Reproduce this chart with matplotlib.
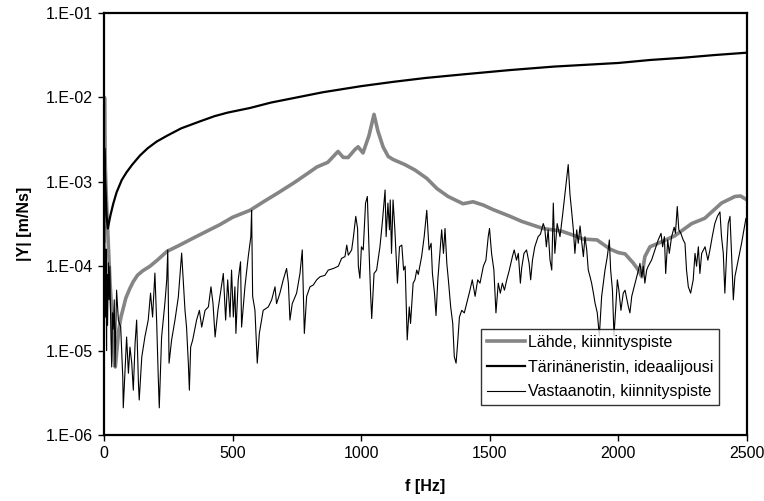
import math
import matplotlib
matplotlib.use('Agg')
import matplotlib.pyplot as plt
from matplotlib.ticker import FixedLocator, FuncFormatter

plt.rcParams['font.family'] = ['Liberation Sans', 'DejaVu Sans']

# Lähde, kiinnityspiste (grey, thick)
f_source = [0, 2, 4, 8, 12, 18, 24, 30, 36, 40, 44, 50, 58, 66, 74, 85, 100, 113, 130, 150,
            179, 210, 245, 290, 340, 400, 450, 500, 568, 620, 680, 740, 789, 828, 870, 910,
            930, 949, 975, 988, 1007, 1030, 1050, 1065, 1085, 1105, 1124, 1170, 1209, 1255,
            1295, 1338, 1396, 1435, 1475, 1512, 1579, 1624, 1707, 1780, 1830, 1862, 1917,
            1967, 2000, 2026, 2057, 2078, 2091, 2103, 2123, 2155, 2220, 2285, 2336, 2401,
            2453, 2475, 2500]
y_source = [2.0e-4, 1.0e-2, 2.0e-3, 8.0e-4, 4.0e-4, 1.5e-4, 6.0e-5, 3.0e-5, 1.3e-5, 7.5e-6,
            6.4e-6, 1.0e-5, 1.8e-5, 2.5e-5, 3.1e-5, 4.2e-5, 5.4e-5, 6.5e-5, 7.8e-5, 8.8e-5,
            1.0e-4, 1.2e-4, 1.5e-4, 1.75e-4, 2.1e-4, 2.6e-4, 3.1e-4, 3.8e-4, 4.6e-4, 5.8e-4,
            7.5e-4, 9.8e-4, 1.24e-3, 1.5e-3, 1.7e-3, 2.29e-3, 1.95e-3, 1.94e-3, 2.4e-3, 2.6e-3,
            2.2e-3, 3.5e-3, 6.3e-3, 4.0e-3, 2.6e-3, 2.0e-3, 1.84e-3, 1.6e-3, 1.38e-3, 1.1e-3,
            8.3e-4, 6.7e-4, 5.5e-4, 5.8e-4, 5.3e-4, 4.7e-4, 3.9e-4, 3.4e-4, 2.8e-4, 2.6e-4,
            2.3e-4, 2.1e-4, 2.05e-4, 1.6e-4, 1.45e-4, 1.4e-4, 1.1e-4, 9.0e-5, 7.5e-5, 1.3e-4,
            1.7e-4, 1.87e-4, 2.3e-4, 3.2e-4, 3.7e-4, 5.6e-4, 6.7e-4, 6.8e-4, 6.1e-4]

# Tärinäneristin, ideaalijousi (black, medium)
f_spring = [0, 1, 5, 10, 15, 25, 36, 49, 69, 88, 110, 140, 170, 205, 244, 300, 373, 430, 480,
            568, 650, 750, 850, 1000, 1125, 1250, 1400, 1579, 1750, 2000, 2125, 2250, 2375, 2500]
y_spring = [1.0e-4, 2.5e-3, 1.0e-3, 4.0e-4, 2.8e-4, 4.0e-4, 5.5e-4, 7.5e-4, 1.05e-3, 1.3e-3,
            1.6e-3, 2.05e-3, 2.5e-3, 3.0e-3, 3.5e-3, 4.3e-3, 5.2e-3, 6.0e-3, 6.6e-3,
            7.5e-3, 8.7e-3, 1.0e-2, 1.15e-2, 1.36e-2, 1.53e-2, 1.7e-2, 1.88e-2, 2.11e-2,
            2.32e-2, 2.56e-2, 2.78e-2, 2.95e-2, 3.18e-2, 3.39e-2]

# Vastaanotin, kiinnityspiste (black, thin)
f_receiver = [0, 2, 4, 6, 8, 10, 12, 14, 17, 20, 23, 27, 30, 33, 36, 40, 43, 49, 56, 65, 73,
              75, 82, 88, 95, 101, 108, 114, 121, 127, 134, 137, 147, 159, 172, 181, 189, 198,
              205, 211, 215, 224, 237, 244, 248, 253, 263, 276, 289, 302, 315, 321, 328, 332,
              337, 345, 360, 371, 380, 393, 406, 416, 424, 432, 443, 451, 464, 473, 481, 490,
              496, 503, 509, 513, 522, 531, 535, 548, 561, 571, 574, 578, 587, 596, 604, 619,
              639, 652, 665, 671, 684, 697, 710, 717, 723, 732, 749, 762, 771, 779, 788, 801,
              814, 827, 840, 859, 872, 892, 911, 924, 937, 944, 950, 963, 970, 979, 986, 989,
              995, 1001, 1008, 1017, 1024, 1031, 1037, 1041, 1050, 1060, 1073, 1083, 1093,
              1097, 1104, 1110, 1113, 1118, 1124, 1131, 1141, 1149, 1158, 1165, 1171, 1179,
              1187, 1192, 1202, 1209, 1216, 1222, 1235, 1245, 1255, 1264, 1272, 1277, 1285,
              1291, 1298, 1304, 1313, 1320, 1326, 1333, 1339, 1348, 1356, 1362, 1369, 1375,
              1382, 1391, 1401, 1410, 1423, 1432, 1443, 1453, 1462, 1475, 1485, 1494, 1499,
              1507, 1516, 1524, 1533, 1541, 1549, 1557, 1566, 1576, 1588, 1595, 1604, 1611,
              1619, 1624, 1633, 1643, 1653, 1659, 1666, 1675, 1688, 1697, 1708, 1714, 1720,
              1727, 1734, 1741, 1747, 1753, 1762, 1773, 1783, 1792, 1805, 1812, 1818, 1825,
              1831, 1838, 1844, 1851, 1857, 1864, 1870, 1877, 1883, 1890, 1896, 1903, 1909,
              1918, 1926, 1935, 1948, 1957, 1965, 1970, 1977, 1983, 1990, 1996, 2002, 2010,
              2019, 2026, 2039, 2045, 2052, 2065, 2078, 2084, 2091, 2097, 2103, 2110, 2116,
              2129, 2142, 2155, 2166, 2172, 2179, 2184, 2192, 2198, 2207, 2217, 2222, 2229,
              2235, 2243, 2252, 2259, 2265, 2272, 2281, 2291, 2298, 2304, 2311, 2317, 2324,
              2337, 2348, 2356, 2365, 2375, 2385, 2395, 2401, 2408, 2414, 2421, 2427, 2434,
              2440, 2447, 2453, 2466, 2479, 2490, 2496, 2500]
y_receiver = [1.0e-4, 3.0e-4, 1.2e-4, 2.5e-5, 1.6e-4, 1.0e-5, 8.0e-5, 2.0e-5, 1.1e-4, 4.0e-5,
              1.0e-4, 1.5e-5, 6.4e-6, 2.8e-5, 1.8e-5, 4.0e-5, 6.4e-6, 5.2e-5, 2.3e-5, 1.9e-5,
              4.9e-6, 2.1e-6, 5.9e-6, 1.45e-5, 5.4e-6, 1.1e-5, 7.1e-6, 3.4e-6, 1.23e-5, 2.3e-5,
              4.1e-6, 2.6e-6, 8.4e-6, 1.45e-5, 2.3e-5, 4.8e-5, 2.5e-5, 8.3e-5, 2.1e-5, 4.9e-6,
              2.1e-6, 1.45e-5, 3.7e-5, 6.9e-5, 1.56e-4, 7.1e-6, 1.34e-5, 2.3e-5, 4.3e-5, 1.43e-4,
              3.0e-5, 1.9e-5, 7.1e-6, 3.4e-6, 1.1e-5, 1.34e-5, 2.3e-5, 3.0e-5, 1.9e-5, 3.0e-5,
              3.3e-5, 5.7e-5, 3.6e-5, 1.45e-5, 3.0e-5, 4.4e-5, 8.2e-5, 2.3e-5, 6.9e-5, 2.5e-5,
              9.0e-5, 2.5e-5, 5.7e-5, 1.6e-5, 6.9e-5, 1.13e-4, 1.9e-5, 5.7e-5, 1.3e-4, 2.24e-4,
              4.6e-4, 4.4e-5, 3.0e-5, 7.1e-6, 1.6e-5, 3.0e-5, 3.3e-5, 4.0e-5, 5.7e-5, 3.6e-5,
              4.8e-5, 6.9e-5, 9.4e-5, 6.3e-5, 2.3e-5, 3.6e-5, 4.8e-5, 8.2e-5, 1.56e-4, 1.6e-5,
              4.4e-5, 5.7e-5, 6.0e-5, 6.9e-5, 7.5e-5, 7.8e-5, 9.0e-5, 9.4e-5, 1.0e-4, 1.24e-4,
              1.3e-4, 1.78e-4, 1.35e-4, 1.56e-4, 2.24e-4, 3.9e-4, 2.8e-4, 1.0e-4, 7.2e-5, 1.7e-4,
              1.56e-4, 5.6e-4, 6.7e-4, 1.42e-4, 4.4e-5, 2.4e-5, 8.2e-5, 9.0e-5, 1.7e-4, 3.5e-4,
              8.0e-4, 2.24e-4, 5.6e-4, 2.7e-4, 6.1e-4, 1.42e-4, 6.1e-4, 2.7e-4, 6.3e-5, 1.7e-4,
              1.78e-4, 9.0e-5, 1.0e-4, 1.34e-5, 3.3e-5, 2.1e-5, 6.3e-5, 6.9e-5, 9.0e-5, 8.0e-5,
              1.3e-4, 2.24e-4, 4.6e-4, 1.56e-4, 1.87e-4, 8.2e-5, 4.8e-5, 2.6e-5, 6.9e-5, 1.18e-4,
              2.7e-4, 1.42e-4, 2.8e-4, 1.08e-4, 6.9e-5, 3.3e-5, 2.1e-5, 8.5e-6, 7.1e-6, 1.22e-5,
              2.5e-5, 3.0e-5, 2.8e-5, 3.6e-5, 5.2e-5, 6.9e-5, 4.4e-5, 6.9e-5, 6.3e-5, 1.0e-4,
              1.18e-4, 2.24e-4, 2.8e-4, 1.42e-4, 9.0e-5, 2.8e-5, 6.3e-5, 4.8e-5, 6.3e-5, 5.2e-5,
              6.9e-5, 9.0e-5, 1.3e-4, 1.56e-4, 1.18e-4, 1.42e-4, 6.3e-5, 9.5e-5, 1.42e-4, 1.56e-4,
              1.08e-4, 6.9e-5, 1.18e-4, 1.7e-4, 2.24e-4, 2.4e-4, 3.2e-4, 2.8e-4, 1.7e-4, 2.7e-4,
              1.2e-4, 9.0e-5, 5.6e-4, 1.42e-4, 3.2e-4, 2.24e-4, 4.0e-4, 7.0e-4, 1.6e-3, 7.0e-4,
              4.6e-4, 2.7e-4, 1.42e-4, 2.7e-4, 1.87e-4, 3.0e-4, 2.0e-4, 1.3e-4, 2.24e-4, 1.56e-4,
              9.0e-5, 7.5e-5, 6.3e-5, 4.8e-5, 3.7e-5, 2.8e-5, 1.5e-5, 4.4e-5, 9.0e-5, 1.3e-4,
              2.05e-4, 9.0e-5, 5.2e-5, 1.5e-5, 3.3e-5, 6.9e-5, 5.2e-5, 3.0e-5, 4.8e-5, 5.2e-5,
              3.3e-5, 2.8e-5, 4.4e-5, 6.3e-5, 9.0e-5, 1.08e-4, 7.5e-5, 1.0e-4, 6.3e-5, 9.0e-5,
              1.0e-4, 1.18e-4, 1.56e-4, 2.05e-4, 2.45e-4, 1.7e-4, 2.24e-4, 8.2e-5, 2.05e-4, 1.42e-4,
              2.24e-4, 2.9e-4, 2.45e-4, 5.1e-4, 2.7e-4, 2.45e-4, 2.05e-4, 1.87e-4, 9.0e-5, 5.7e-5,
              4.8e-5, 6.9e-5, 1.42e-4, 1.0e-4, 1.7e-4, 8.2e-5, 1.42e-4, 1.7e-4, 1.18e-4, 1.56e-4,
              2.24e-4, 3.2e-4, 3.9e-4, 4.4e-4, 2.24e-4, 1.42e-4, 4.8e-5, 1.42e-4, 3.2e-4, 3.9e-4,
              1.42e-4, 4.0e-5, 7.5e-5, 1.18e-4, 1.87e-4, 2.9e-4, 3.7e-4, 3.5e-4]

x_ticks = [0, 500, 1000, 1500, 2000, 2500]
y_ticks = [1e-6, 1e-5, 1e-4, 1e-3, 1e-2, 1e-1]


def exp_label(v, pos):
    e = int(round(-math.log10(v)))
    return '1.E-%02d' % e


fig = plt.figure(figsize=(7.64, 5.01), dpi=100)
ax = fig.add_axes([0.1361, 0.1317, 0.8416, 0.8423])

ax.plot(f_source, y_source, color='#858585', linewidth=2.6, label='Lähde, kiinnityspiste')
ax.plot(f_spring, y_spring, color='black', linewidth=1.6, label='Tärinäneristin, ideaalijousi')
ax.plot(f_receiver, y_receiver, color='black', linewidth=0.8, label='Vastaanotin, kiinnityspiste')

ax.set_yscale('log')
ax.set_xlim(0, 2500)
ax.set_ylim(1e-6, 1e-1)
ax.xaxis.set_major_locator(FixedLocator(x_ticks))
ax.yaxis.set_major_locator(FixedLocator(y_ticks))
ax.yaxis.set_minor_locator(FixedLocator([]))
ax.yaxis.set_major_formatter(FuncFormatter(exp_label))
ax.tick_params(direction='out', length=4, width=1, labelsize=11.5, pad=4)
for s in ax.spines.values():
    s.set_linewidth(1.6)

ax.set_xlabel('f [Hz]', fontsize=11.5, fontweight='bold')
ax.set_ylabel('|Y| [m/Ns]', fontsize=11.5, fontweight='bold')
ax.xaxis.set_label_coords(0.5, -0.105)
ax.yaxis.set_label_coords(-0.112, 0.5)

leg = ax.legend(loc='lower right', bbox_to_anchor=(0.956, 0.071), borderaxespad=0,
                fontsize=11.5, frameon=True, fancybox=False, edgecolor='black',
                handlelength=2.4, handletextpad=0.15, labelspacing=0.62, borderpad=0.35)
leg.get_frame().set_linewidth(1.0)

fig.savefig('out.png', dpi=100)
